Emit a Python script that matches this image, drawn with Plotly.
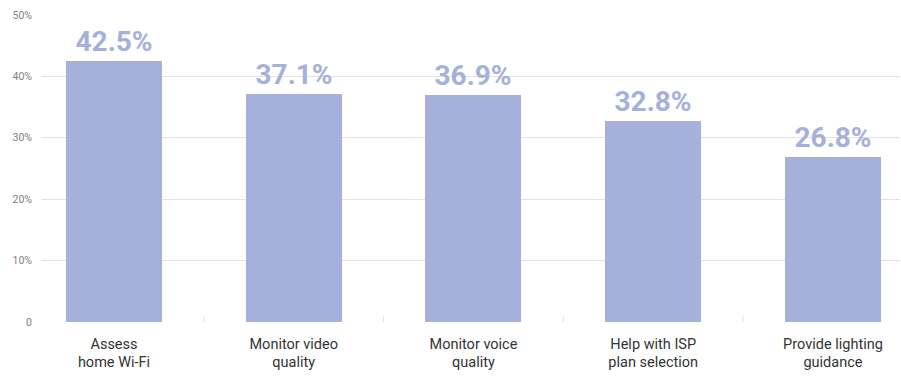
import plotly.graph_objects as go

categories = ["Assess<br>home Wi-Fi", "Monitor video<br>quality", "Monitor voice<br>quality",
              "Help with ISP<br>plan selection", "Provide lighting<br>guidance"]
values = [42.5, 37.1, 36.9, 32.8, 26.8]
labels = ["42.5%", "37.1%", "36.9%", "32.8%", "26.8%"]
ytick_vals = [0, 10, 20, 30, 40, 50]
ytick_text = ["0", "10%", "20%", "30%", "40%", "50%"]

bar_color = "#a5b1da"

fig = go.Figure(go.Bar(
    x=list(range(len(categories))),
    y=values,
    width=0.534,
    marker=dict(color=bar_color, line=dict(width=0)),
    text=labels,
    textposition="outside",
    cliponaxis=False,
    textfont=dict(family="Roboto", size=28, color=bar_color, weight="bold"),
    hoverinfo="skip",
))

fig.update_layout(
    width=901, height=378,
    margin=dict(l=41, r=1, t=15, b=56),
    paper_bgcolor="white", plot_bgcolor="white",
    showlegend=False,
    bargap=0,
    xaxis=dict(
        tickmode="array",
        tickvals=list(range(len(categories))),
        ticktext=categories,
        range=[-0.406, 4.373],
        showgrid=False,
        ticks="",
        tickfont=dict(family="Roboto", size=14.5, color="#333333"),
        zeroline=False,
        showline=False,
        automargin=False,
        ticklabelstandoff=11,
    ),
    yaxis=dict(
        range=[0, 50],
        tickmode="array",
        tickvals=ytick_vals,
        ticktext=ytick_text,
        showgrid=True,
        gridcolor="#e3e3e3",
        gridwidth=1,
        zeroline=False,
        tickfont=dict(family="Roboto", size=10.5, color="#808080"),
        ticklabelstandoff=8,
        automargin=False,
    ),
)

# boundary ticks on the zero line
for b in [0.5, 1.5, 2.5, 3.5]:
    fig.add_shape(type="line", xref="x", yref="paper", x0=b, x1=b, y0=0, y1=0.02,
                  line=dict(color="#e3e3e3", width=1))

fig.write_html("out.html", config={"displayModeBar": False},
               post_script="document.body.style.margin='0';document.body.style.overflow='hidden';")
